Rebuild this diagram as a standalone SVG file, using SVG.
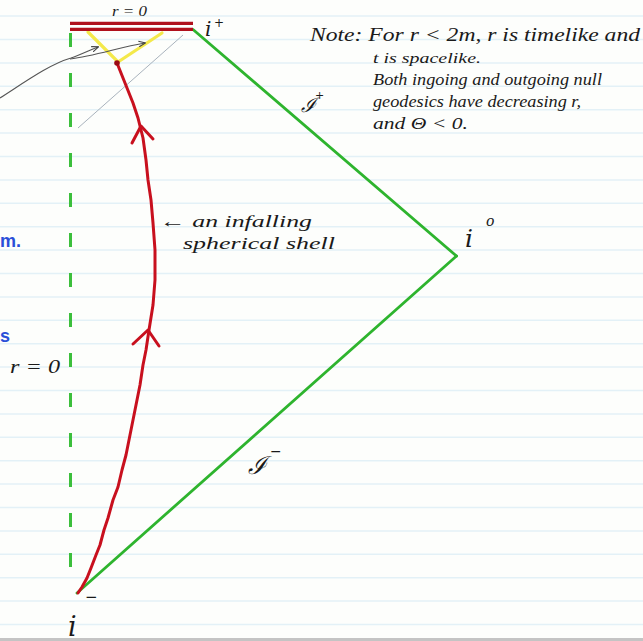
<svg xmlns="http://www.w3.org/2000/svg" width="643" height="641" viewBox="0 0 643 641">
<defs>
<style>
.rule{stroke:#e3f1f7;stroke-width:1.5}
.hand{font-family:"Liberation Serif","DejaVu Serif",serif;font-style:italic;fill:#1a1a1a}
.sym{font-family:"DejaVu Serif","Liberation Serif",serif;font-style:italic;fill:#1a1a1a}
.blue{font-family:"Liberation Sans","DejaVu Sans",sans-serif;font-weight:bold;fill:#2a4fd8}
.green{stroke:#2eb42e;stroke-width:2.8;fill:none;stroke-linecap:round}
.red{stroke:#c8101e;stroke-width:3;fill:none;stroke-linecap:round;stroke-linejoin:round}
.sing{stroke:#b0101c;stroke-width:3.2;fill:none}
.yellow{stroke:#f4e94a;stroke-width:3.2;fill:none;stroke-linecap:round}
.gray{stroke:#555;stroke-width:1.1;fill:none}
</style>
<marker id="ah" viewBox="0 0 10 10" refX="9" refY="5" markerWidth="7" markerHeight="7" orient="auto" markerUnits="userSpaceOnUse">
<path d="M0,1 L10,5 L0,9" fill="none" stroke="#444" stroke-width="1.6"/>
</marker>
</defs>
<rect width="643" height="641" fill="#fdfefc"/>
<g id="ruled-paper">
<line class="rule" x1="0" y1="16.1" x2="643" y2="16.1"/>
<line class="rule" x1="0" y1="39.5" x2="643" y2="39.5"/>
<line class="rule" x1="0" y1="62.9" x2="643" y2="62.9"/>
<line class="rule" x1="0" y1="86.3" x2="643" y2="86.3"/>
<line class="rule" x1="0" y1="109.7" x2="643" y2="109.7"/>
<line class="rule" x1="0" y1="133.1" x2="643" y2="133.1"/>
<line class="rule" x1="0" y1="156.5" x2="643" y2="156.5"/>
<line class="rule" x1="0" y1="179.9" x2="643" y2="179.9"/>
<line class="rule" x1="0" y1="203.3" x2="643" y2="203.3"/>
<line class="rule" x1="0" y1="226.7" x2="643" y2="226.7"/>
<line class="rule" x1="0" y1="250.1" x2="643" y2="250.1"/>
<line class="rule" x1="0" y1="273.5" x2="643" y2="273.5"/>
<line class="rule" x1="0" y1="296.9" x2="643" y2="296.9"/>
<line class="rule" x1="0" y1="320.3" x2="643" y2="320.3"/>
<line class="rule" x1="0" y1="343.7" x2="643" y2="343.7"/>
<line class="rule" x1="0" y1="367.1" x2="643" y2="367.1"/>
<line class="rule" x1="0" y1="390.5" x2="643" y2="390.5"/>
<line class="rule" x1="0" y1="413.9" x2="643" y2="413.9"/>
<line class="rule" x1="0" y1="437.3" x2="643" y2="437.3"/>
<line class="rule" x1="0" y1="460.7" x2="643" y2="460.7"/>
<line class="rule" x1="0" y1="484.1" x2="643" y2="484.1"/>
<line class="rule" x1="0" y1="507.5" x2="643" y2="507.5"/>
<line class="rule" x1="0" y1="530.9" x2="643" y2="530.9"/>
<line class="rule" x1="0" y1="554.3" x2="643" y2="554.3"/>
<line class="rule" x1="0" y1="577.7" x2="643" y2="577.7"/>
<line class="rule" x1="0" y1="601.1" x2="643" y2="601.1"/>
<line class="rule" x1="0" y1="624.5" x2="643" y2="624.5"/>
<rect x="0" y="638" width="643" height="3" fill="#c4c4c4"/>
</g>
<g id="connectors">
<line class="green" x1="193" y1="29.5" x2="456.5" y2="256"/>
<line class="green" x1="456.5" y1="256" x2="77" y2="593"/>
<line x1="70.5" y1="33" x2="70.5" y2="593" stroke="#3cbf3c" stroke-width="3" stroke-dasharray="14 26"/>
<line x1="183" y1="35" x2="78" y2="128" stroke="#a9b3bd" stroke-width="1"/>
<polyline class="yellow" points="88,32 118,62 162,33"/>
<polyline class="red" points="117,63 125,83 133,103 138,118 143,138 146,160 148,180 151,200 153,223 155,250 155,280 153,305 149,330 146,350 143,365 140,385 137,400 133,420 129,440 126,455 122,470 118,487 113,500 108,518 104,530 100,545 96,555 91,568 87,578 82,587 78,593"/>
<polyline class="red" points="132,143 141,126 153,139"/>
<polyline class="red" points="133,344 148,330 159,346"/>
<circle cx="117" cy="63" r="2.8" fill="#9a0a14"/>
<path class="gray" d="M0,98 C25,82 50,64 71,58 C80,55 90,50 98,47" marker-end="url(#ah)"/>
<path class="gray" d="M70,59 C95,56 120,47 145,43" marker-end="url(#ah)"/>
</g>
<g id="singularity">
<line class="sing" x1="70" y1="23.3" x2="193" y2="23.3"/>
<line class="sing" x1="70" y1="29.3" x2="193" y2="29.3"/>
<text class="hand" x="112" y="16" font-size="15" textLength="35" lengthAdjust="spacingAndGlyphs">r = 0</text>
</g>
<g id="i-plus"><text class="sym" x="205" y="36" font-size="20">i</text><text class="sym" x="214" y="27" font-size="12">+</text></g>
<g id="i-zero"><text class="sym" x="465" y="247" font-size="25">i</text><text class="sym" x="486" y="226" font-size="14">o</text></g>
<g id="i-minus"><text class="sym" x="68" y="636" font-size="27">i</text><text class="sym" x="85" y="602" font-size="15">−</text></g>
<g id="scri-plus"><text class="sym" x="301" y="112" font-size="20">ℐ</text><text class="sym" x="315" y="99" font-size="11">+</text></g>
<g id="scri-minus"><text class="sym" x="248" y="474" font-size="25">ℐ</text><text class="sym" x="270" y="456" font-size="14">−</text></g>
<g id="axis-label"><text class="hand" x="10" y="373" font-size="19" textLength="50" lengthAdjust="spacingAndGlyphs">r = 0</text></g>
<g id="shell-label">
<text class="hand" x="160" y="227" font-size="17" textLength="152" lengthAdjust="spacingAndGlyphs">← an infalling</text>
<text class="hand" x="183" y="249" font-size="17" textLength="152" lengthAdjust="spacingAndGlyphs">spherical shell</text>
</g>
<g id="note">
<text class="hand" x="310" y="41" font-size="18" textLength="330" lengthAdjust="spacingAndGlyphs">Note: For r &lt; 2m, r is timelike and</text>
<text class="hand" x="373" y="63" font-size="15" textLength="108" lengthAdjust="spacingAndGlyphs">t is spacelike.</text>
<text class="hand" x="373" y="85" font-size="17" textLength="229" lengthAdjust="spacingAndGlyphs">Both ingoing and outgoing null</text>
<text class="hand" x="373" y="107" font-size="17" textLength="208" lengthAdjust="spacingAndGlyphs">geodesics have decreasing r,</text>
<text class="hand" x="373" y="129" font-size="17" textLength="95" lengthAdjust="spacingAndGlyphs">and Θ &lt; 0.</text>
</g>
<g id="margin-fragments">
<text class="blue" x="0" y="247" font-size="18">m.</text>
<text class="blue" x="0" y="342" font-size="18">s</text>
</g>
</svg>
